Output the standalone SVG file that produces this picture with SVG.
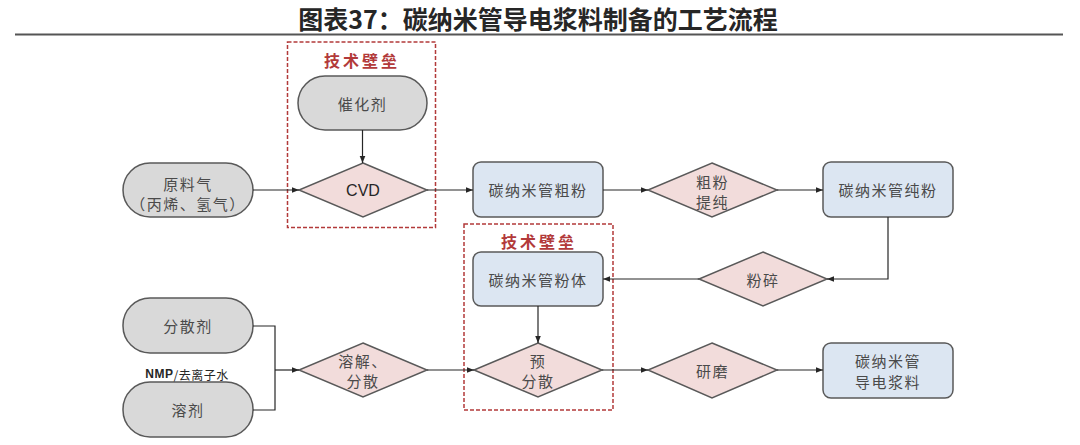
<svg xmlns="http://www.w3.org/2000/svg" width="1080" height="445" viewBox="0 0 1080 445">
<defs>
<marker id="arr" viewBox="0 0 10 10" refX="10" refY="5" markerWidth="7" markerHeight="7" orient="auto" markerUnits="userSpaceOnUse">
<path d="M0,1 L10,5 L0,9 z" fill="#262626"/>
</marker>
<style>
.pill{fill:#d9d9d9;stroke:#595959;stroke-width:1.5}
.box{fill:#dce6f2;stroke:#595959;stroke-width:1.5}
.dia{fill:#f2dcdb;stroke:#595959;stroke-width:1.5}
.zone{fill:none;stroke:#b23a3a;stroke-width:1.5;stroke-dasharray:4 2}
.t{font-family:"Noto Sans CJK SC","Noto Sans",sans-serif;font-size:15px;fill:#4a4a4a;text-anchor:middle;dominant-baseline:central;letter-spacing:1.5px}
.zt{font-family:"Noto Sans CJK SC",sans-serif;font-size:16px;font-weight:bold;fill:#b23a3a;text-anchor:middle;dominant-baseline:central;letter-spacing:3px}
.c{fill:none;stroke:#262626;stroke-width:1.2}
</style>
</defs>
<rect width="1080" height="445" fill="#ffffff"/>
<g id="title">
<text x="538" y="18" font-family="Noto Sans CJK SC, sans-serif" font-size="25" font-weight="bold" fill="#262626" text-anchor="middle" dominant-baseline="central">图表37：碳纳米管导电浆料制备的工艺流程</text>
<line x1="15" y1="34.5" x2="1063" y2="34.5" stroke="#555555" stroke-width="2"/>
</g>
<g id="zone1">
<rect class="zone" x="287.5" y="42" width="148" height="185.5"/>
<text class="zt" x="362" y="60">技术壁垒</text>
</g>
<g id="zone2">
<rect class="zone" x="464" y="224" width="149" height="186"/>
<text class="zt" x="539" y="241">技术壁垒</text>
</g>
<g id="catalyst">
<rect class="pill" x="298" y="76" width="129" height="54" rx="27"/>
<text class="t" x="362.5" y="103">催化剂</text>
</g>
<g id="feedgas">
<rect class="pill" x="123" y="163" width="130" height="54" rx="27"/>
<text class="t" x="188" y="183">原料气</text>
<text class="t" x="188" y="203" letter-spacing="1">（丙烯、氢气）</text>
</g>
<g id="cvd">
<polygon class="dia" points="363,163 427,190 363,217 299,190"/>
<text x="363" y="190" font-family="Liberation Sans, Arial, sans-serif" font-size="16" fill="#262626" text-anchor="middle" dominant-baseline="central">CVD</text>
</g>
<g id="crude">
<rect class="box" x="473" y="162" width="130" height="55" rx="8"/>
<text class="t" x="538" y="189.5">碳纳米管粗粉</text>
</g>
<g id="purify">
<polygon class="dia" points="712,163 777,190 712,217 648,190"/>
<text class="t" x="712.5" y="181">粗粉</text>
<text class="t" x="712.5" y="201">提纯</text>
</g>
<g id="pure">
<rect class="box" x="823" y="162" width="130" height="55" rx="8"/>
<text class="t" x="888" y="189.5">碳纳米管纯粉</text>
</g>
<g id="crush">
<polygon class="dia" points="763,252 827,279 763,306 699,279"/>
<text class="t" x="763" y="279">粉碎</text>
</g>
<g id="powder">
<rect class="box" x="473" y="252" width="130" height="54" rx="8"/>
<text class="t" x="538" y="279">碳纳米管粉体</text>
</g>
<g id="dispersant">
<rect class="pill" x="123" y="298" width="130" height="55" rx="27"/>
<text class="t" x="188" y="325.5">分散剂</text>
</g>
<g id="solvent-label">
<text x="187" y="374" font-family="Noto Sans CJK SC, sans-serif" font-size="12" fill="#262626" text-anchor="middle" dominant-baseline="central" letter-spacing="0.5"><tspan font-family="Liberation Sans, Arial, sans-serif" font-weight="bold">NMP</tspan>/去离子水</text>
</g>
<g id="solvent">
<rect class="pill" x="123" y="382" width="130" height="55" rx="27"/>
<text class="t" x="188" y="409.5">溶剂</text>
</g>
<g id="dissolve">
<polygon class="dia" points="363,343 427,370 363,397 299,370"/>
<text class="t" x="363" y="360">溶解、</text>
<text class="t" x="363" y="380">分散</text>
</g>
<g id="predisperse">
<polygon class="dia" points="538,343 602,370 538,397 474,370"/>
<text class="t" x="538" y="360">预</text>
<text class="t" x="538" y="380">分散</text>
</g>
<g id="grind">
<polygon class="dia" points="712,343 777,370 712,398 648,370"/>
<text class="t" x="712.5" y="370">研磨</text>
</g>
<g id="slurry">
<rect class="box" x="823" y="343" width="130" height="55" rx="8"/>
<text class="t" x="888" y="360">碳纳米管</text>
<text class="t" x="888" y="381">导电浆料</text>
</g>
<g id="connectors">
<line class="c" x1="362.5" y1="130" x2="362.5" y2="163" marker-end="url(#arr)"/>
<line class="c" x1="253" y1="190" x2="299" y2="190" marker-end="url(#arr)"/>
<line class="c" x1="427" y1="190" x2="473" y2="190" marker-end="url(#arr)"/>
<line class="c" x1="603" y1="190" x2="648" y2="190" marker-end="url(#arr)"/>
<line class="c" x1="777" y1="190" x2="823" y2="190" marker-end="url(#arr)"/>
<polyline class="c" points="888,217 888,279 827,279" marker-end="url(#arr)"/>
<line class="c" x1="699" y1="279" x2="603" y2="279" marker-end="url(#arr)"/>
<line class="c" x1="538" y1="306" x2="538" y2="343" marker-end="url(#arr)"/>
<polyline class="c" points="253,326 275,326 275,410 253,410"/>
<line class="c" x1="275" y1="370" x2="299" y2="370" marker-end="url(#arr)"/>
<line class="c" x1="427" y1="370" x2="474" y2="370" marker-end="url(#arr)"/>
<line class="c" x1="602" y1="370" x2="648" y2="370" marker-end="url(#arr)"/>
<line class="c" x1="777" y1="370" x2="823" y2="370" marker-end="url(#arr)"/>
</g>
</svg>
